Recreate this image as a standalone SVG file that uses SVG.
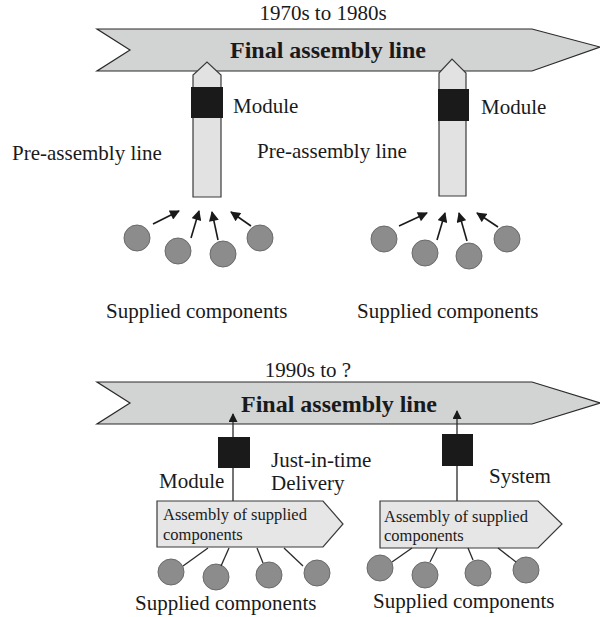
<svg xmlns="http://www.w3.org/2000/svg" width="600" height="617" viewBox="0 0 600 617">
  <defs>
    <style>
      .t { font-family: "Liberation Serif", "Times New Roman", "DejaVu Serif", serif; fill: #1a1a1a; }
      .lbl { font-size: 21px; }
      .big { font-size: 24px; font-weight: bold; }
      .sm { font-size: 16.5px; }
      .line { fill: #d2d3d3; stroke: #2a2a2a; stroke-width: 1.2; }
      .col { fill: #e2e2e2; stroke: #3a3a3a; stroke-width: 1.2; }
      .box { fill: #e6e6e6; stroke: #3a3a3a; stroke-width: 1.2; }
      .mod { fill: #1a1a1a; }
      .comp { fill: #8c8c8c; stroke: #6a6a6a; stroke-width: 1; }
      .arr { stroke: #1a1a1a; stroke-width: 1.6; fill: none; marker-end: url(#head); }
      .link { stroke: #2a2a2a; stroke-width: 1.3; fill: none; }
    </style>
    <marker id="head" viewBox="0 0 10 10" refX="9" refY="5" markerWidth="11" markerHeight="10" markerUnits="userSpaceOnUse" orient="auto">
      <path d="M0,0 L10,5 L0,10 z" fill="#1a1a1a"/>
    </marker>
    <marker id="headS" viewBox="0 0 10 10" refX="9" refY="5" markerWidth="13" markerHeight="9" markerUnits="userSpaceOnUse" orient="auto">
      <path d="M0,0 L10,5 L0,10 z" fill="#1a1a1a"/>
    </marker>
  </defs>

  <!-- Upper era: 1970s to 1980s -->
  <text class="t lbl" x="323" y="20" text-anchor="middle">1970s to 1980s</text>

  <g id="final-line-top">
    <polygon class="line" points="97,29 532,29 600,47 532,71 97,71 130,50"/>
    <text class="t big" x="328" y="58" text-anchor="middle">Final assembly line</text>
  </g>

  <g id="pre-line-left">
    <polygon class="col" points="193,197 193,75 207,62 221,75 221,197"/>
    <rect class="mod" x="191" y="87" width="32" height="31"/>
    <text class="t lbl" x="233" y="113">Module</text>
    <text class="t lbl" x="12" y="160">Pre-assembly line</text>
  </g>

  <g id="pre-line-right">
    <polygon class="col" points="439,196 439,73 452,59 466,73 466,196"/>
    <rect class="mod" x="438" y="89" width="31" height="32"/>
    <text class="t lbl" x="481" y="114">Module</text>
    <text class="t lbl" x="257" y="158">Pre-assembly line</text>
  </g>

  <g id="components-top-left">
    <circle class="comp" cx="137" cy="238" r="13"/>
    <circle class="comp" cx="178" cy="251" r="13"/>
    <circle class="comp" cx="223" cy="254" r="13"/>
    <circle class="comp" cx="260" cy="238" r="13"/>
    <text class="t lbl" x="106" y="318">Supplied components</text>
  </g>

  <g id="components-top-right">
    <circle class="comp" cx="384" cy="239" r="13"/>
    <circle class="comp" cx="425" cy="253" r="13"/>
    <circle class="comp" cx="469" cy="256" r="13"/>
    <circle class="comp" cx="507" cy="239" r="13"/>
    <text class="t lbl" x="357" y="318">Supplied components</text>
  </g>

  <!-- Lower era: 1990s onwards -->
  <text class="t lbl" x="308" y="377" text-anchor="middle">1990s to ?</text>

  <g id="final-line-bottom">
    <polygon class="line" points="97,382 532,382 600,403 532,424 97,424 130,403"/>
    <text class="t big" x="339" y="412" text-anchor="middle">Final assembly line</text>
  </g>

  <g id="module-jit">
    <rect class="mod" x="218" y="437" width="32" height="31"/>
    <text class="t lbl" x="159" y="488">Module</text>
    <text class="t lbl" x="271" y="467">Just-in-time</text>
    <text class="t lbl" x="271" y="490">Delivery</text>
  </g>

  <g id="assembly-left">
    <polygon class="box" points="157,501 323,501 343,524 323,547 157,547"/>
    <text class="t sm" x="163" y="520">Assembly of supplied</text>
    <text class="t sm" x="163" y="540">components</text>
  </g>

  <g id="system">
    <rect class="mod" x="442" y="434" width="31" height="32"/>
    <text class="t lbl" x="489" y="483">System</text>
  </g>

  <g id="assembly-right">
    <polygon class="box" points="380,501 538,501 562,524 538,548 380,548"/>
    <text class="t sm" x="384" y="522">Assembly of supplied</text>
    <text class="t sm" x="384" y="541">components</text>
  </g>

  <g id="components-bottom-left">
    <circle class="comp" cx="171" cy="572" r="13"/>
    <circle class="comp" cx="216" cy="577" r="13"/>
    <circle class="comp" cx="269" cy="575" r="13"/>
    <circle class="comp" cx="317" cy="573" r="13"/>
    <text class="t lbl" x="135" y="610">Supplied components</text>
  </g>

  <g id="components-bottom-right">
    <circle class="comp" cx="380" cy="568" r="13"/>
    <circle class="comp" cx="425" cy="575" r="13"/>
    <circle class="comp" cx="478" cy="573" r="13"/>
    <circle class="comp" cx="526" cy="570" r="13"/>
    <text class="t lbl" x="373" y="608">Supplied components</text>
  </g>

  <g id="connectors">
    <!-- components feeding the pre-assembly lines -->
    <line class="arr" x1="153" y1="224" x2="179" y2="211"/>
    <line class="arr" x1="191" y1="238" x2="199" y2="211"/>
    <line class="arr" x1="218" y1="240" x2="212" y2="212"/>
    <line class="arr" x1="251" y1="226" x2="231" y2="212"/>
    <line class="arr" x1="399" y1="226" x2="427" y2="213"/>
    <line class="arr" x1="437" y1="240" x2="445" y2="213"/>
    <line class="arr" x1="467" y1="241" x2="459" y2="213"/>
    <line class="arr" x1="498" y1="227" x2="477" y2="213"/>

    <!-- delivery into the final line -->
    <line class="link" x1="233" y1="501" x2="233" y2="468"/>
    <line class="link" x1="233" y1="437" x2="233" y2="414" marker-end="url(#headS)"/>
    <line class="link" x1="457" y1="501" x2="457" y2="466"/>
    <line class="link" x1="457" y1="434" x2="457" y2="411" marker-end="url(#headS)"/>

    <!-- components joined to the assembly boxes -->
    <line class="link" x1="183" y1="566" x2="208" y2="548"/>
    <line class="link" x1="221" y1="566" x2="229" y2="548"/>
    <line class="link" x1="263" y1="563" x2="257" y2="548"/>
    <line class="link" x1="303" y1="566" x2="284" y2="548"/>
    <line class="link" x1="392" y1="562" x2="412" y2="548"/>
    <line class="link" x1="430" y1="562" x2="437" y2="548"/>
    <line class="link" x1="473" y1="560" x2="468" y2="548"/>
    <line class="link" x1="516" y1="562" x2="498" y2="548"/>
  </g>
</svg>
